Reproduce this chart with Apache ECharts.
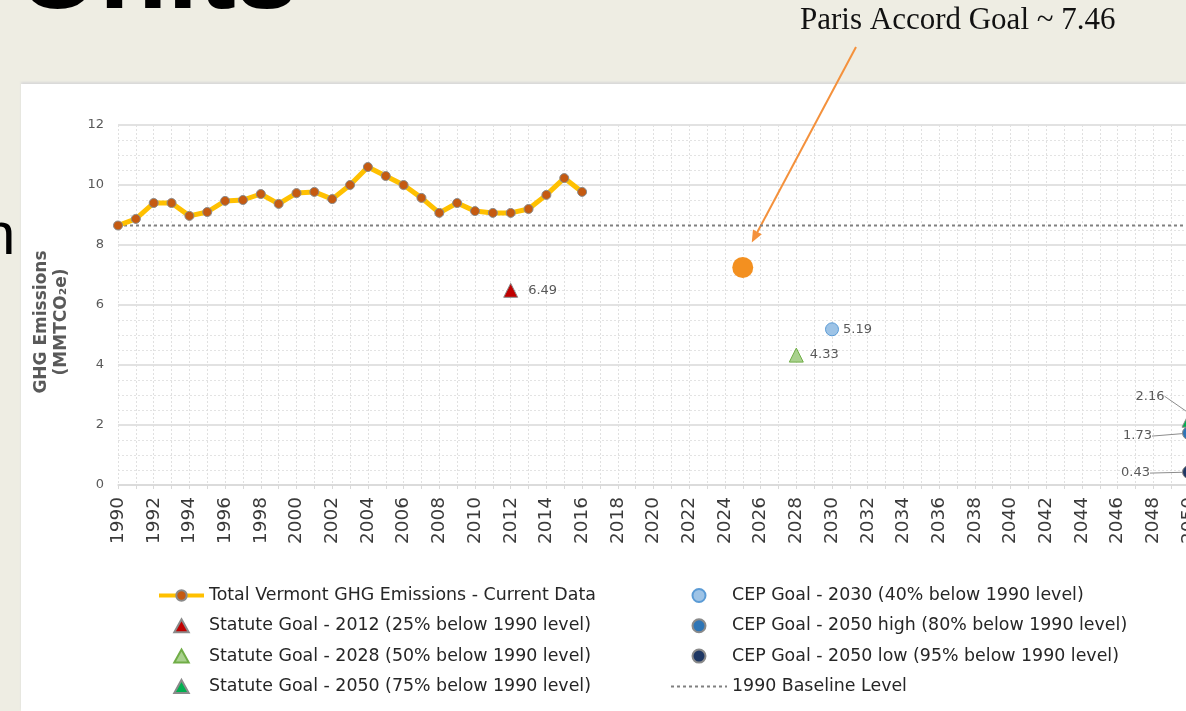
<!DOCTYPE html>
<html>
<head>
<meta charset="utf-8">
<title>Vermont GHG Emissions</title>
<script src="https://cdn.jsdelivr.net/npm/echarts@6/dist/echarts.min.js"></script>
<style>
  body { margin: 0; background: #eeede3; overflow: hidden; }
  #panel { position: absolute; left: 21px; top: 84px; right: 0; bottom: 0; background: #fff; box-shadow: 0 -2px 2px #d9d9d9; }
  #container { position: absolute; left: 0; top: 0; width: 1186px; height: 711px; }
</style>
</head>
<body>
<div id="panel"></div>
<div id="container"></div>
<script>
  // measured emissions, 1990-2016
  var years = [1990, 1991, 1992, 1993, 1994, 1995, 1996, 1997, 1998, 1999, 2000, 2001, 2002,
    2003, 2004, 2005, 2006, 2007, 2008, 2009, 2010, 2011, 2012, 2013, 2014, 2015, 2016];
  var emissions = [8.65, 8.87, 9.4, 9.4, 8.97, 9.1, 9.47, 9.5, 9.7, 9.37, 9.73, 9.77, 9.53,
    10.0, 10.6, 10.3, 10.0, 9.57, 9.07, 9.4, 9.13, 9.07, 9.07, 9.2, 9.67, 10.23, 9.77];

  // goals
  var baselineYears = [1990, 2050];
  var baselineLevel = 8.65;
  var statute2012 = [2012, 6.49];
  var statute2028 = [2028, 4.33];
  var statute2050 = [2050, 2.16];
  var cep2030 = [2030, 5.19];
  var cep2050high = [2050, 1.73];
  var cep2050low = [2050, 0.43];
  var parisGoal = [2025, 7.25];

  var names = {
    total: 'Total Vermont GHG Emissions - Current Data',
    s2012: 'Statute Goal - 2012 (25% below 1990 level)',
    s2028: 'Statute Goal - 2028 (50% below 1990 level)',
    s2050: 'Statute Goal - 2050 (75% below 1990 level)',
    c2030: 'CEP Goal - 2030 (40% below 1990 level)',
    cHigh: 'CEP Goal - 2050 high (80% below 1990 level)',
    cLow: 'CEP Goal - 2050 low (95% below 1990 level)',
    base: '1990 Baseline Level'
  };

  var font = 'DejaVu Sans';
  var labelStyle = { show: true, fontSize: 13, color: '#595959', fontFamily: font,
    formatter: function (p) { return p.value[1].toFixed(2); } };
  // triangle as a path so the legend keeps its aspect
  var triIcon = 'path://M5,0L10,9L0,9Z';

  function goal(name, point, symbol, size, color, border, label, layout) {
    var s = {
      type: 'scatter', name: name, data: [point], symbol: symbol, symbolSize: size, z: 5,
      itemStyle: { color: color, borderColor: border, borderWidth: 1, opacity: 1 },
      label: Object.assign({}, labelStyle, label)
    };
    if (layout) {
      s.labelLayout = layout;
      s.labelLine = { show: true, lineStyle: { color: '#8c8c8c', width: 1 } };
    }
    return s;
  }

  var dom = document.getElementById('container');
  var myChart = echarts.init(dom);

  var legendText = { fontSize: 17.4, color: '#262626', fontFamily: font };

  var option = {
    animation: false,
    grid: { left: 118, top: 125, width: 1071, height: 360, outerBoundsMode: 'none' },
    legend: [
      { left: 157, top: 587, padding: 0, orient: 'vertical', itemWidth: 45, itemHeight: 13, itemGap: 13.3,
        lineStyle: { width: 4 },
        data: [
          names.total,
          { name: names.s2012, icon: triIcon },
          { name: names.s2028, icon: triIcon },
          { name: names.s2050, icon: triIcon }
        ],
        textStyle: legendText },
      { left: 670, top: 587, padding: 0, orient: 'vertical', itemWidth: 56, itemHeight: 13, itemGap: 13.3,
        data: [names.c2030, names.cHigh, names.cLow, names.base], textStyle: legendText }
    ],
    xAxis: {
      type: 'value', min: 1990, max: 2050, interval: 2,
      axisLine: { show: true, lineStyle: { color: '#d9d9d9', width: 1.5 } },
      axisTick: { show: true, length: 4, lineStyle: { color: '#d9d9d9' } },
      minorTick: { show: true, splitNumber: 2, length: 4, lineStyle: { color: '#d9d9d9' } },
      axisLabel: { rotate: 90, margin: 12, fontSize: 18.5, color: '#3a3a3a', fontFamily: font,
        formatter: function (v) { return String(v); } },
      splitLine: { show: true, lineStyle: { color: '#e0e0e0', type: [2, 2] } },
      minorSplitLine: { show: true, lineStyle: { color: '#e0e0e0', type: [2, 2] } }
    },
    yAxis: {
      type: 'value', min: 0, max: 12, interval: 2,
      name: 'GHG Emissions\n(MMTCO\u2082e)', nameLocation: 'middle', nameGap: 46,
      nameTextStyle: { fontSize: 17, fontWeight: 'bold', color: '#595959', fontFamily: font,
        lineHeight: 20, padding: [0, 34, 0, 0] },
      axisLine: { show: false },
      axisTick: { show: false },
      minorTick: { show: false, splitNumber: 4 },
      axisLabel: { margin: 14, fontSize: 13, color: '#595959', fontFamily: font },
      splitLine: { show: true, lineStyle: { color: '#d9d9d9', width: 1.5 } },
      minorSplitLine: { show: true, lineStyle: { color: '#e3e3e3', type: [2, 2] } }
    },
    series: [
      {
        type: 'line', name: names.base, symbol: 'none', z: 3,
        data: baselineYears.map(function (y) { return [y, baselineLevel]; }),
        lineStyle: { color: '#808080', width: 2, type: [3, 3] },
        itemStyle: { color: 'rgba(0,0,0,0)', borderWidth: 0 }
      },
      {
        type: 'line', name: names.total, z: 4,
        data: years.map(function (y, i) { return [y, emissions[i]]; }),
        symbol: 'circle', symbolSize: 9,
        lineStyle: { color: '#FFC000', width: 5 },
        itemStyle: { color: '#C55A11', borderColor: '#8a8a8a', borderWidth: 1 }
      },
      goal(names.s2012, statute2012, 'triangle', 14, '#C00000', '#8a8a8a', { position: 'right', distance: 10 }),
      goal(names.s2028, statute2028, 'triangle', 14, '#A9D18E', '#70AD47', { position: 'right', distance: 6 }),
      goal(names.s2050, statute2050, 'triangle', 14, '#00B050', '#8a8a8a', { position: 'left' }, { dx: -12, dy: -24 }),
      goal(names.c2030, cep2030, 'circle', 13, '#9DC3E6', '#5B9BD5', { position: 'right', distance: 4 }),
      goal(names.cHigh, cep2050high, 'circle', 13, '#2E75B6', '#8a8a8a', { position: 'left' }, { dx: -25, dy: 3 }),
      goal(names.cLow, cep2050low, 'circle', 13, '#1F3864', '#8a8a8a', { position: 'left' }, { dx: -27, dy: 1 }),
      {
        type: 'scatter', name: 'Paris Accord Goal', data: [parisGoal], symbol: 'circle', symbolSize: 21, z: 6,
        itemStyle: { color: '#F39020', opacity: 1 }
      }
    ]
  };
  myChart.setOption(option);

  // slide annotations: title remnant, cut-off word and the Paris arrow
  var p = myChart.convertToPixel({ gridIndex: 0 }, parisGoal);
  var tip = [p[0] + 9, p[1] - 25];
  var start = [856, 47];
  var dx = tip[0] - start[0], dy = tip[1] - start[1];
  var len = Math.sqrt(dx * dx + dy * dy);
  var ux = dx / len, uy = dy / len;
  var base = [tip[0] - 12 * ux, tip[1] - 12 * uy];
  var headA = [base[0] - 5 * uy, base[1] + 5 * ux];
  var headB = [base[0] + 5 * uy, base[1] - 5 * ux];

  myChart.setOption({
    graphic: [
      { type: 'text', left: 18, top: -79, style: { text: 'Units', fontSize: 112, fontWeight: 'bold',
        fontFamily: 'Liberation Sans', fill: '#000' } },
      { type: 'text', left: -18, top: 207, style: { text: 'n', fontSize: 60,
        fontFamily: 'Liberation Sans', fill: '#000' } },
      { type: 'text', left: 800, top: 5, style: { text: 'Paris Accord Goal ~ 7.46', fontSize: 31,
        fontFamily: 'Liberation Serif', fill: '#111' } },
      { type: 'line', shape: { x1: start[0], y1: start[1], x2: base[0], y2: base[1] },
        style: { stroke: '#F4913C', lineWidth: 2 } },
      { type: 'polygon', shape: { points: [tip, headA, headB] }, style: { fill: '#F4913C' } }
    ]
  });
  window.addEventListener('resize', myChart.resize);
</script>
</body>
</html>
